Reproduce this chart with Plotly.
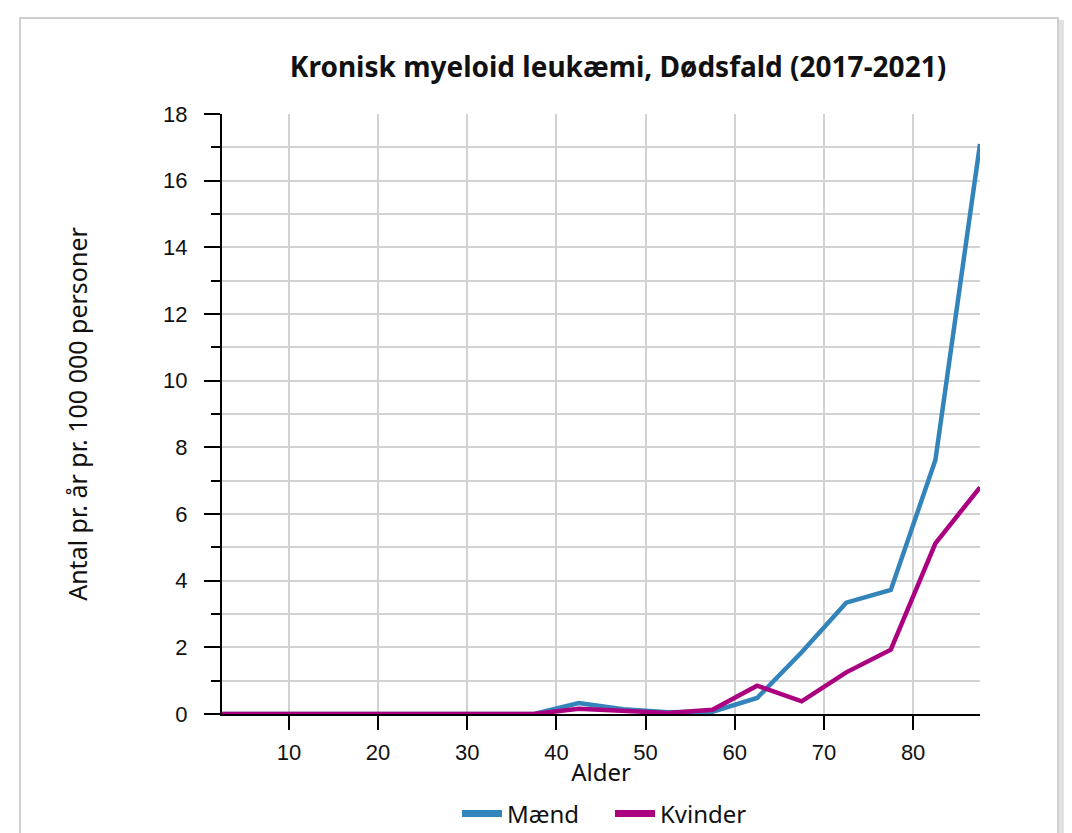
import plotly.graph_objects as go

ages = [2.5, 7.5, 12.5, 17.5, 22.5, 27.5, 32.5, 37.5, 42.5, 47.5,
        52.5, 57.5, 62.5, 67.5, 72.5, 77.5, 82.5, 87.5]
maend = [0, 0, 0, 0, 0, 0, 0, 0, 0.33, 0.14,
         0.05, 0.07, 0.48, 1.85, 3.34, 3.72, 7.62, 17.1]
kvinder = [0, 0, 0, 0, 0, 0, 0, 0, 0.16, 0.08,
           0.03, 0.13, 0.85, 0.38, 1.25, 1.93, 5.12, 6.8]
x_ticks = [10, 20, 30, 40, 50, 60, 70, 80]
y_ticks = [0, 2, 4, 6, 8, 10, 12, 14, 16, 18]

title_text = "Kronisk myeloid leukæmi, Dødsfald (2017-2021)"
x_title = "Alder"
y_title = "Antal pr. år pr. 100 000 personer"

BLUE = "#3384bb"
MAGENTA = "#ab007f"
GRID = "#d2d2d2"

fig = go.Figure()
fig.add_trace(go.Scatter(x=ages, y=maend, mode="lines", name="Mænd",
                         legendgroup="m", showlegend=False,
                         line=dict(color=BLUE, width=4.5)))
fig.add_trace(go.Scatter(x=ages, y=kvinder, mode="lines", name="Kvinder",
                         legendgroup="k", showlegend=False,
                         line=dict(color=MAGENTA, width=4.5)))
# legend entries (thicker swatches, as in the reference)
fig.add_trace(go.Scatter(x=[None], y=[None], mode="lines", name="Mænd",
                         legendgroup="m", line=dict(color=BLUE, width=7)))
fig.add_trace(go.Scatter(x=[None], y=[None], mode="lines", name="Kvinder",
                         legendgroup="k", line=dict(color=MAGENTA, width=7)))

OFF = 8  # page body margin in the browser
W, H = 1072, 833
PL, PT, PW, PH = 222 - OFF, 114 - OFF, 758, 600
L, T = PL, PT
R = W - L - PW
B = H - T - PH

def px2paper_x(px):
    return (px - OFF - L) / PW

def px2paper_y(py):
    return (T + PH - (py - OFF)) / PH

fig.update_layout(
    width=W, height=H,
    margin=dict(l=L, r=R, t=T, b=B, autoexpand=False),
    paper_bgcolor="white",
    plot_bgcolor="white",
    title=dict(text="<b>" + title_text + "</b>",
               font=dict(family="Noto Sans", size=28, color="#111111"),
               x=(618 - OFF) / W, xanchor="center",
               y=1 - (67 - OFF) / H, yanchor="middle"),
    showlegend=True,
    legend=dict(orientation="h", x=px2paper_x(610), xanchor="center",
                y=px2paper_y(814), yanchor="middle",
                font=dict(family="Noto Sans", size=24, color="#111111"),
                itemwidth=40, entrywidth=98, entrywidthmode="pixels",
                bgcolor="rgba(0,0,0,0)"),
    xaxis=dict(
        range=[2.5, 87.5],
        tickvals=x_ticks,
        ticks="outside", ticklen=14, tickwidth=2, tickcolor="black",
        ticklabelstandoff=4,
        showline=True, linecolor="black", linewidth=2,
        showgrid=True, gridcolor=GRID, gridwidth=2,
        zeroline=False, automargin=False,
        tickfont=dict(family="Liberation Sans", size=22, color="#111111"),
        title=dict(text=x_title, standoff=0,
                   font=dict(family="Noto Sans", size=24, color="#111111")),
    ),
    yaxis=dict(
        range=[0, 18],
        tickvals=y_ticks,
        ticks="outside", ticklen=16, tickwidth=2, tickcolor="black",
        ticklabelstandoff=12,
        showline=True, linecolor="black", linewidth=2,
        showgrid=True, gridcolor=GRID, gridwidth=2,
        zeroline=False, automargin=False,
        minor=dict(dtick=1, tick0=0, ticks="outside", ticklen=9, tickwidth=2,
                   tickcolor="black", showgrid=True, gridcolor=GRID, gridwidth=2),
        tickfont=dict(family="Liberation Sans", size=22, color="#111111"),
        title=dict(text=y_title, standoff=68,
                   font=dict(family="Noto Sans", size=25, color="#111111")),
    ),
    shapes=[
        dict(type="rect", xref="paper", yref="paper", layer="below",
             x0=px2paper_x(1059), x1=px2paper_x(1064),
             y0=px2paper_y(900), y1=px2paper_y(20),
             line=dict(width=0), fillcolor="#e2e2e2"),
        dict(type="rect", xref="paper", yref="paper", layer="below",
             x0=px2paper_x(20), x1=px2paper_x(1058),
             y0=px2paper_y(900), y1=px2paper_y(18),
             line=dict(color="#cfcfcf", width=2), fillcolor="white"),
    ],
)

fig.write_html("out.html")
